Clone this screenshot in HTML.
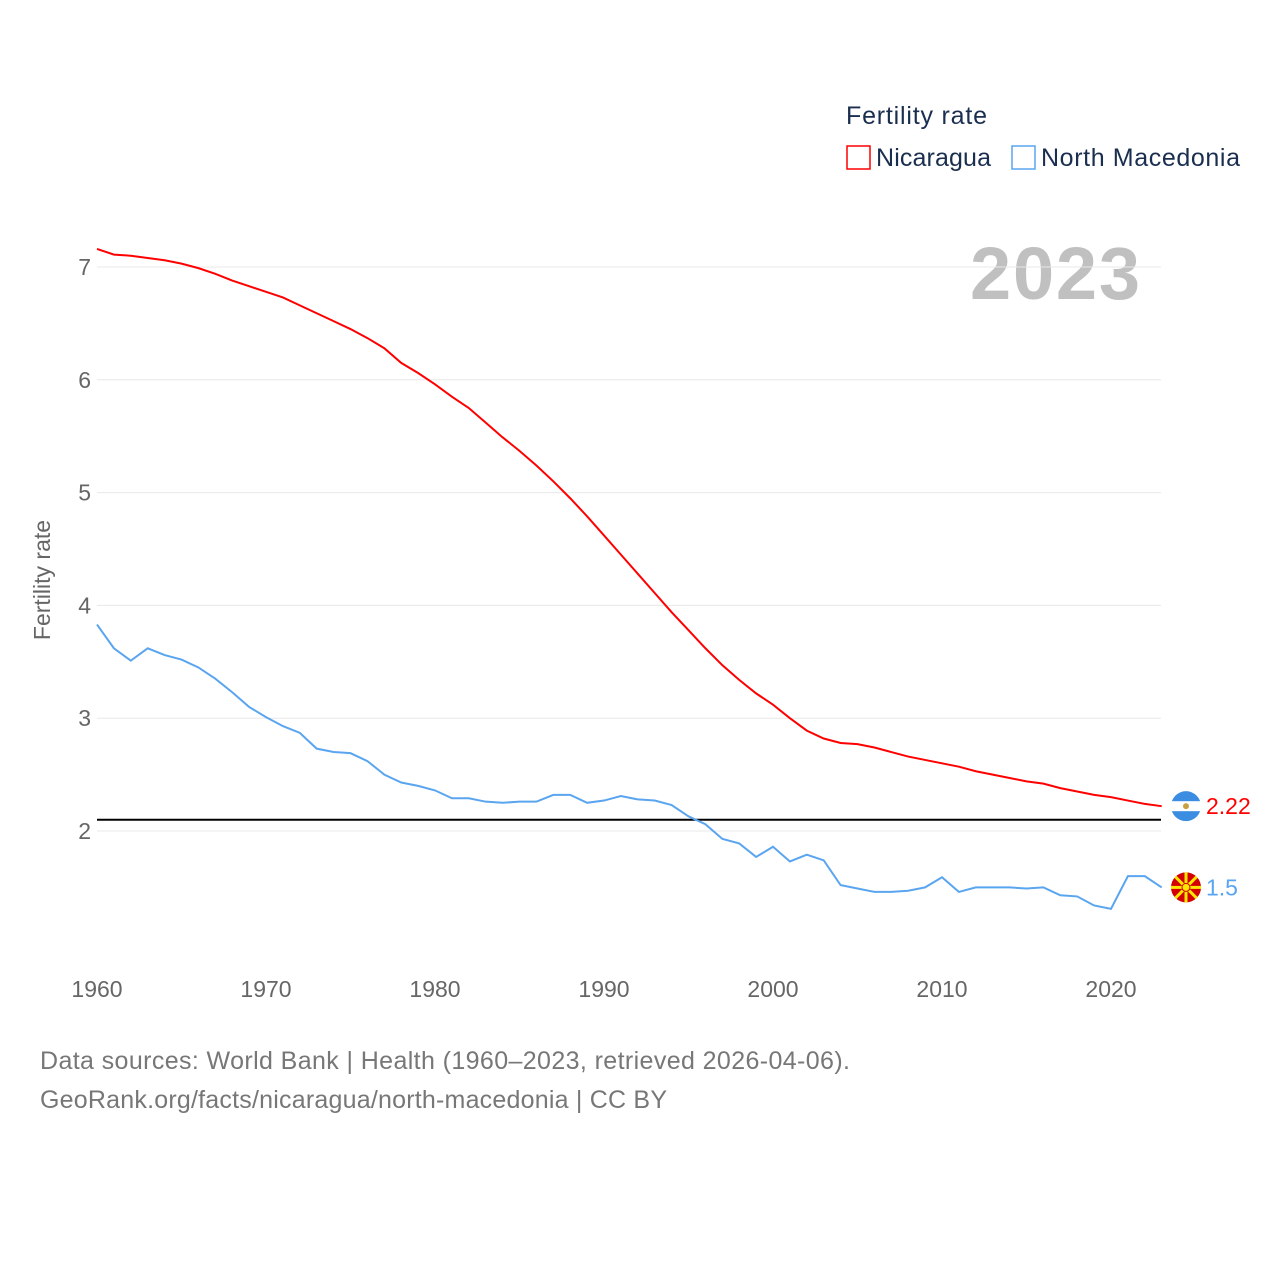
<!DOCTYPE html>
<html><head><meta charset="utf-8"><style>
body{margin:0;background:#fff;font-family:"Liberation Sans",sans-serif}
svg{display:block}
</style></head><body>
<svg id="chart" width="1280" height="1280">
<text x="846" y="124" font-size="25" fill="#1a2e4f" textLength="141">Fertility rate</text>
<g><rect x="847" y="146" width="23" height="23" fill="none" stroke="#f00" stroke-width="1.5"/><text x="876" y="166" font-size="25" fill="#1a2e4f" textLength="115">Nicaragua</text></g>
<g><rect x="1012" y="146" width="23" height="23" fill="none" stroke="#5aa5f0" stroke-width="1.5"/><text x="1041" y="166" font-size="25" fill="#1a2e4f" textLength="199">North Macedonia</text></g>
<text x="970" y="299" font-size="74" font-weight="bold" fill="#c0c0c0" textLength="170">2023</text>
<text transform="translate(50,580) rotate(-90)" font-size="23" fill="#666" text-anchor="middle">Fertility rate</text>
<g id="grid"></g><g id="series"></g>
<text x="40" y="1069" font-size="25" fill="#777" textLength="810">Data sources: World Bank | Health (1960–2023, retrieved 2026-04-06).</text>
<text x="40" y="1108" font-size="25" fill="#777" textLength="627">GeoRank.org/facts/nicaragua/north-macedonia | CC BY</text>
</svg>
<script>
const years=[];for(let y=1960;y<=2023;y++)years.push(y);
const nicaragua=[7.16,7.11,7.10,7.08,7.06,7.03,6.99,6.94,6.88,6.83,6.78,6.73,6.66,6.59,6.52,6.45,6.37,6.28,6.15,6.06,5.96,5.85,5.75,5.62,5.49,5.37,5.24,5.10,4.95,4.79,4.62,4.45,4.28,4.11,3.94,3.78,3.62,3.47,3.34,3.22,3.12,3.00,2.89,2.82,2.78,2.77,2.74,2.70,2.66,2.63,2.60,2.57,2.53,2.50,2.47,2.44,2.42,2.38,2.35,2.32,2.30,2.27,2.24,2.22];
const macedonia=[3.83,3.62,3.51,3.62,3.56,3.52,3.45,3.35,3.23,3.10,3.01,2.93,2.87,2.73,2.70,2.69,2.62,2.50,2.43,2.40,2.36,2.29,2.29,2.26,2.25,2.26,2.26,2.32,2.32,2.25,2.27,2.31,2.28,2.27,2.23,2.13,2.06,1.93,1.89,1.77,1.86,1.73,1.79,1.74,1.52,1.49,1.46,1.46,1.47,1.50,1.59,1.46,1.50,1.50,1.50,1.49,1.50,1.43,1.42,1.34,1.31,1.60,1.60,1.50];
const yTicks=[2,3,4,5,6,7];
const xTicks=[1960,1970,1980,1990,2000,2010,2020];
const replacement=2.1;
const X=y=>97+(y-1960)*(1111-97)/60;
const Y=v=>831-(v-2)*112.8;
const NS='http://www.w3.org/2000/svg';
const grid=document.getElementById('grid'),series=document.getElementById('series');
function mk(tag,attrs,parent,txt){const e=document.createElementNS(NS,tag);for(const k in attrs)e.setAttribute(k,attrs[k]);if(txt!==undefined)e.textContent=txt;parent.appendChild(e);return e;}
yTicks.forEach(t=>{
 const l=mk('line',{x1:97,x2:1161,y1:Y(t),y2:Y(t),stroke:'#e8e8e8'},grid);
 
 
 const tx=mk('text',{x:91,y:Y(t)+8,'font-size':23,fill:'#666','text-anchor':'end'},grid,t);
 
 
});
xTicks.forEach(t=>{
 const tx=mk('text',{x:X(t),y:997,'font-size':23,fill:'#666','text-anchor':'middle'},grid,t);
 
 
});
const rl=mk('line',{x1:97,x2:1161,y1:Y(replacement),y2:Y(replacement),stroke:'#000','stroke-width':2},series);


function line(vals,color,name){
 const p=mk('polyline',{points:vals.map((v,i)=>X(years[i])+','+Y(v)).join(' '),fill:'none',stroke:color,'stroke-width':2},series);
 
 
}
line(nicaragua,'#f00','nicaragua-line');
line(macedonia,'#5aa5f0','north-macedonia-line');
const lastN=nicaragua[nicaragua.length-1],lastM=macedonia[macedonia.length-1];
const f1=mk('g',{},series);


mk('circle',{cx:1186,cy:Y(lastN),r:15,fill:'#3a8de0'},f1);
mk('rect',{x:1171,y:Y(lastN)-5,width:30,height:10,fill:'#fff'},f1);
mk('circle',{cx:1186,cy:Y(lastN),r:3,fill:'#c8a040'},f1);
const t1=mk('text',{x:1206,y:Y(lastN)+8,'font-size':23,fill:'#f00'},series,lastN.toFixed(2));


const f2=mk('g',{},series);


const cy=Y(lastM);
mk('circle',{cx:1186,cy:cy,r:15,fill:'#d20000'},f2);
for(let a=0;a<8;a++){const ang=a*Math.PI/4;mk('line',{x1:1186,y1:cy,x2:1186+15*Math.cos(ang),y2:cy+15*Math.sin(ang),stroke:'#ffe600','stroke-width':3},f2);}
mk('circle',{cx:1186,cy:cy,r:4,fill:'#ffe600',stroke:'#d20000','stroke-width':1},f2);
const t2=mk('text',{x:1206,y:cy+8,'font-size':23,fill:'#5aa5f0'},series,String(lastM));


</script>
</body></html>
